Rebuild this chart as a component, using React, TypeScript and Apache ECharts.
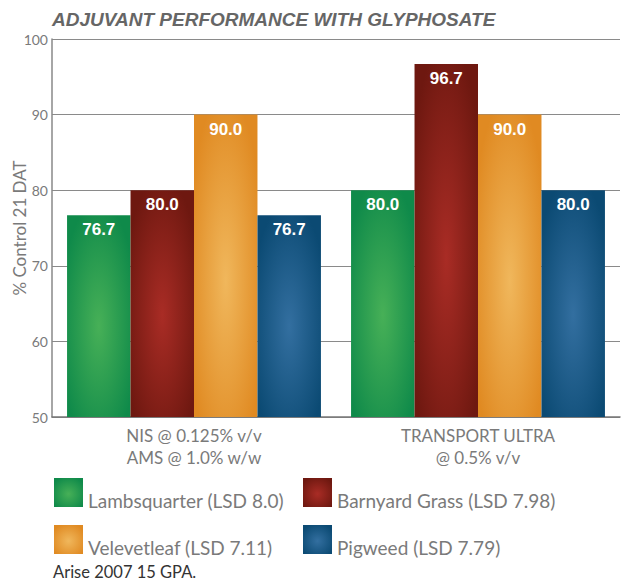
import React, { useEffect, useRef } from "react";
import * as echarts from "echarts";

const categories = ["NIS @ 0.125% v/v\nAMS @ 1.0% w/w", "TRANSPORT ULTRA\n@ 0.5% v/v"];
const seriesNames = [
  "Lambsquarter (LSD 8.0)",
  "Barnyard Grass (LSD 7.98)",
  "Velevetleaf (LSD 7.11)",
  "Pigweed (LSD 7.79)",
];
const lambsquarter = [76.7, 80.0];
const barnyardGrass = [80.0, 96.7];
const velevetleaf = [90.0, 90.0];
const pigweed = [76.7, 80.0];
const yTicks = [50, 60, 70, 80, 90, 100];

const edgeColors = ["#0f8a4a", "#6e1810", "#e08a22", "#0b4a73"];
const centerColors = ["#47b057", "#a92c25", "#f0b75c", "#336fa0"];

const grad = (i: number) =>
  new echarts.graphic.RadialGradient(0.5, 0.55, 0.62, [
    { offset: 0, color: centerColors[i] },
    { offset: 1, color: edgeColors[i] },
  ]);

const FONT = "Lato, 'Noto Sans', sans-serif";

const legendBase = {
  top: 478,
  orient: "vertical",
  itemWidth: 29,
  itemHeight: 29,
  itemGap: 15,
  itemTextGap: 8,
  icon: "rect",
  padding: 0,
  formatter: (name: string) => `{t|${name}}`,
  textStyle: {
    fontFamily: FONT,
    fontSize: 19,
    color: "#7a7a7a",
    rich: {
      t: { fontFamily: FONT, fontSize: 19, color: "#7a7a7a", padding: [16, 0, 0, 0] },
    },
  },
};

export default function App() {
  const ref = useRef<HTMLDivElement>(null);
  useEffect(() => {
    document.body.style.margin = "0";
    if (!ref.current) return;
    const chart = echarts.init(ref.current, null, { renderer: "svg" });
    const values = [lambsquarter, barnyardGrass, velevetleaf, pigweed];
    chart.setOption({
      animation: false,
      title: {
        text: "ADJUVANT PERFORMANCE WITH GLYPHOSATE",
        left: 52,
        top: 10,
        padding: 0,
        textStyle: {
          fontFamily: "'Liberation Sans', Arial, sans-serif",
          fontStyle: "italic",
          fontWeight: "bold",
          fontSize: 19,
          color: "#666666",
        },
      },
      grid: { left: 52, right: 8, top: 39, bottom: 165, outerBoundsMode: "none", containLabel: false },
      xAxis: {
        type: "category",
        data: categories,
        axisLine: { lineStyle: { color: "#777777", width: 1.5 } },
        axisTick: { show: false },
        axisLabel: {
          fontFamily: FONT,
          fontSize: 17,
          lineHeight: 22,
          color: "#7a7a7a",
          margin: 7,
        },
      },
      yAxis: {
        type: "value",
        min: yTicks[0],
        max: yTicks[yTicks.length - 1],
        interval: 10,
        name: "% Control 21 DAT",
        nameLocation: "middle",
        nameGap: 24,
        nameMoveOverlap: false,
        nameTextStyle: { fontFamily: FONT, fontSize: 17, color: "#7a7a7a" },
        axisLine: { show: true, lineStyle: { color: "#888888", width: 1.5 } },
        axisTick: { show: false },
        axisLabel: { fontFamily: FONT, fontSize: 14, color: "#7a7a7a", margin: 4 },
        splitLine: { lineStyle: { color: "#8a8a8a", width: 1.2 } },
      },
      legend: [
        { ...legendBase, left: 54, data: [seriesNames[0], seriesNames[2]] },
        { ...legendBase, left: 303, data: [seriesNames[1], seriesNames[3]] },
      ],
      graphic: [
        {
          type: "text",
          left: 53,
          top: 563,
          style: {
            text: "Arise 2007 15 GPA.",
            fontFamily: FONT,
            fontSize: 16.5,
            fill: "#333333",
          },
        },
      ],
      series: values.map((v, i) => ({
        name: seriesNames[i],
        type: "bar",
        data: v,
        barGap: "0%",
        barCategoryGap: "10.6%",
        itemStyle: { color: grad(i) },
        label: {
          show: true,
          position: "insideTop",
          distance: 6,
          formatter: (p: any) => Number(p.value).toFixed(1),
          fontFamily: "'Liberation Sans', Arial, sans-serif",
          fontWeight: "bold",
          fontSize: 17,
          color: "#ffffff",
        },
      })),
    });
    return () => chart.dispose();
  }, []);
  return <div ref={ref} style={{ width: 628, height: 582 }} />;
}
